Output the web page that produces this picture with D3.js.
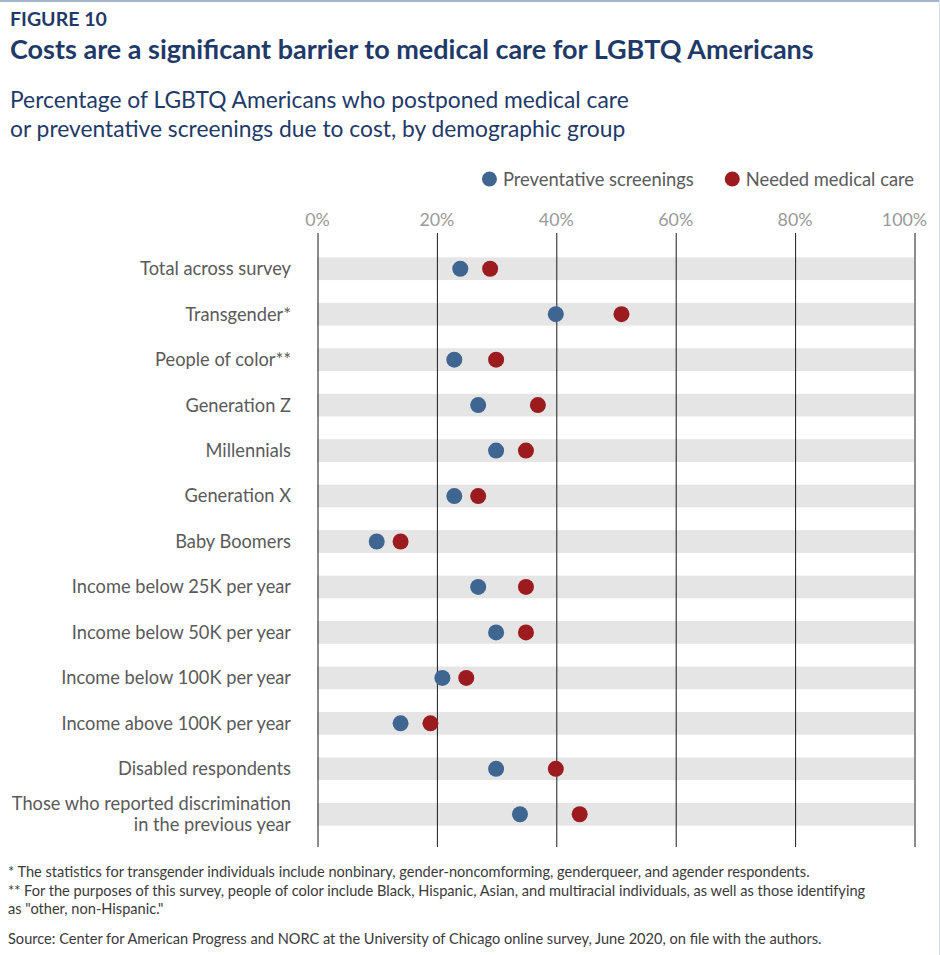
<!DOCTYPE html>
<meta charset="utf-8">

<script src="https://d3js.org/d3.v7.min.js"></script>

<style type="text/css">

body {
  margin: 0;
  background: #fff;
}

text {
  font-family: Lato, "Open Sans", sans-serif;
}

.axis path {
  display: none;
}

.axis line {
  stroke: #1a1a1a;
  stroke-width: 1px;
}

.axis text {
  fill: #9a9a9a;
}

.catLabel {
  fill: #5a5a5a;
}

.legend text {
  fill: #5a5a5a;
}

.note {
  fill: #3a3a3a;
}

.head {
  fill: #1f3a68;
}

</style>

<body></body>

<script>

// data (percent of LGBTQ Americans)
var categories = [
  "Total across survey",
  "Transgender*",
  "People of color**",
  "Generation Z",
  "Millennials",
  "Generation X",
  "Baby Boomers",
  "Income below 25K per year",
  "Income below 50K per year",
  "Income below 100K per year",
  "Income above 100K per year",
  "Disabled respondents",
  "Those who reported discrimination\nin the previous year"
];
var screenings  = [24, 40, 23, 27, 30, 23, 10, 27, 30, 21, 14, 30, 34];
var medicalCare = [29, 51, 30, 37, 35, 27, 14, 35, 35, 25, 19, 40, 44];

var xTicks = [0, 20, 40, 60, 80, 100];
var seriesNames = ["Preventative screenings", "Needed medical care"];
var seriesColors = ["#3f6690", "#9b1b1f"];

var figureLabel = "FIGURE 10";
var title = "Costs are a significant barrier to medical care for LGBTQ Americans";
var subtitle = [
  "Percentage of LGBTQ Americans who postponed medical care",
  "or preventative screenings due to cost, by demographic group"
];
var notes = [
  "* The statistics for transgender individuals include nonbinary, gender-noncomforming, genderqueer, and agender respondents.",
  "** For the purposes of this survey, people of color include Black, Hispanic, Asian, and multiracial individuals, as well as those identifying",
  "as \"other, non-Hispanic.\""
];
var source = "Source: Center for American Progress and NORC at the University of Chicago online survey, June 2020, on file with the authors.";

var width = 940,
    height = 955;
var radius = 8;

var svg = d3.select("body").append("svg")
    .attr("width", width)
    .attr("height", height);

// work out a font size so a sample string gets the width it has in the original
function sizeFor(str, weight, targetWidth) {
  var t = svg.append("text")
    .style("font-size", "20px")
    .style("font-weight", weight)
    .text(str);
  var len = t.node().getComputedTextLength();
  t.remove();
  return 20 * targetWidth / len;
}

// frame lines at top and right
svg.append("line")
  .attr("x1", 0).attr("x2", width)
  .attr("y1", 1).attr("y2", 1)
  .style("stroke", "#a3b5c9")
  .style("stroke-width", 2);

svg.append("line")
  .attr("x1", width - 0.5).attr("x2", width - 0.5)
  .attr("y1", 0).attr("y2", height)
  .style("stroke", "#d5dde6")
  .style("stroke-width", 1);

// header
svg.append("text")
  .attr("class", "head")
  .attr("x", 10)
  .attr("y", 26)
  .style("font-weight", "bold")
  .style("font-size", sizeFor(figureLabel, "bold", 97) + "px")
  .text(figureLabel);

svg.append("text")
  .attr("class", "head")
  .attr("x", 10)
  .attr("y", 59)
  .style("font-weight", "bold")
  .style("font-size", sizeFor(title, "bold", 804) + "px")
  .text(title);

var subSize = sizeFor(subtitle[0], "normal", 619);
svg.selectAll(".subtitle")
  .data(subtitle)
  .enter().append("text")
  .attr("class", "head subtitle")
  .attr("x", 10)
  .attr("y", function(d, i) { return 108 + i * 29; })
  .style("font-size", subSize + "px")
  .text(function(d) { return d; });

// scales
var xScale = d3.scaleLinear()
  .domain([0, 100])
  .range([317, 914]);

var yScale = d3.scaleBand()
  .domain(categories)
  .range([246, 837])
  .paddingInner(0.5)
  .paddingOuter(0.25);

var gridTop = 233,
    gridBottom = 847;

// grey row bands
svg.selectAll(".band")
  .data(categories)
  .enter().append("rect")
  .attr("class", "band")
  .attr("x", xScale(0))
  .attr("width", xScale(100) - xScale(0))
  .attr("y", function(d) { return yScale(d); })
  .attr("height", yScale.bandwidth())
  .style("fill", "#e5e5e5");

// axis with grid lines running down the chart
var tickSize = sizeFor("40%", "normal", 35);
var xAxis = d3.axisTop(xScale)
  .tickValues(xTicks)
  .tickFormat(function(d) { return d + "%"; })
  .tickSize(-(gridBottom - gridTop))
  .tickPadding(7);

svg.append("g")
  .attr("class", "x axis")
  .attr("transform", "translate(0," + gridTop + ")")
  .call(xAxis)
  .selectAll("text")
  .style("font-size", tickSize + "px")
  .style("font-family", null)
  // last label is pulled inside the frame
  .attr("x", function(d) { return d === 100 ? -10 : 0; });

svg.selectAll(".x.axis .tick line")
  .attr("x1", 0.5).attr("x2", 0.5);

// category labels, right aligned
var labelSize = sizeFor(categories[0], "normal", 151);
var labels = svg.selectAll(".catLabel")
  .data(categories)
  .enter().append("text")
  .attr("class", "catLabel")
  .attr("text-anchor", "end")
  .style("font-size", labelSize + "px")
  .attr("transform", function(d) {
    return "translate(291," + (yScale(d) + yScale.bandwidth() / 2) + ")";
  });

labels.selectAll("tspan")
  .data(function(d) {
    var lines = d.split("\n");
    return lines.map(function(l, i) { return {text: l, i: i, n: lines.length}; });
  })
  .enter().append("tspan")
  .attr("x", 0)
  .attr("y", function(d) { return (d.i - (d.n - 1) / 2) * 21; })
  .attr("dy", "0.35em")
  .text(function(d) { return d.text; });

// dots
var rows = categories.map(function(c, i) {
  return {category: c, values: [screenings[i], medicalCare[i]]};
});

var rowGroups = svg.selectAll(".rowGroup")
  .data(rows)
  .enter().append("g")
  .attr("class", "rowGroup")
  .attr("transform", function(d) {
    return "translate(0," + (yScale(d.category) + yScale.bandwidth() / 2) + ")";
  });

rowGroups.selectAll("circle")
  .data(function(d) { return d.values; })
  .enter().append("circle")
  .attr("cx", function(d) { return xScale(d); })
  .attr("cy", 0)
  .attr("r", radius)
  .style("fill", function(d, i) { return seriesColors[i]; });

// legend, laid out from the right edge
var legendSize = sizeFor(seriesNames[0], "normal", 191);
var legend = svg.append("g").attr("class", "legend");
var legendX = xScale(100);
for (var i = seriesNames.length - 1; i >= 0; i--) {
  var t = legend.append("text")
    .attr("y", 186)
    .style("font-size", legendSize + "px")
    .text(seriesNames[i]);
  var w = t.node().getComputedTextLength();
  legendX -= w;
  t.attr("x", legendX);
  legend.append("circle")
    .attr("cx", legendX - 13.5)
    .attr("cy", 179)
    .attr("r", 7.5)
    .style("fill", seriesColors[i]);
  legendX -= 13.5 + 38.5;
}

// footnotes and source
var noteSize = sizeFor(notes[0], "normal", 802);
svg.selectAll(".note.foot")
  .data(notes)
  .enter().append("text")
  .attr("class", "note foot")
  .attr("x", 8)
  .attr("y", function(d, i) { return 877 + i * 18.5; })
  .style("font-size", noteSize + "px")
  .text(function(d) { return d; });

svg.append("text")
  .attr("class", "note")
  .attr("x", 8)
  .attr("y", 944)
  .style("font-size", noteSize + "px")
  .text(source);

</script>
